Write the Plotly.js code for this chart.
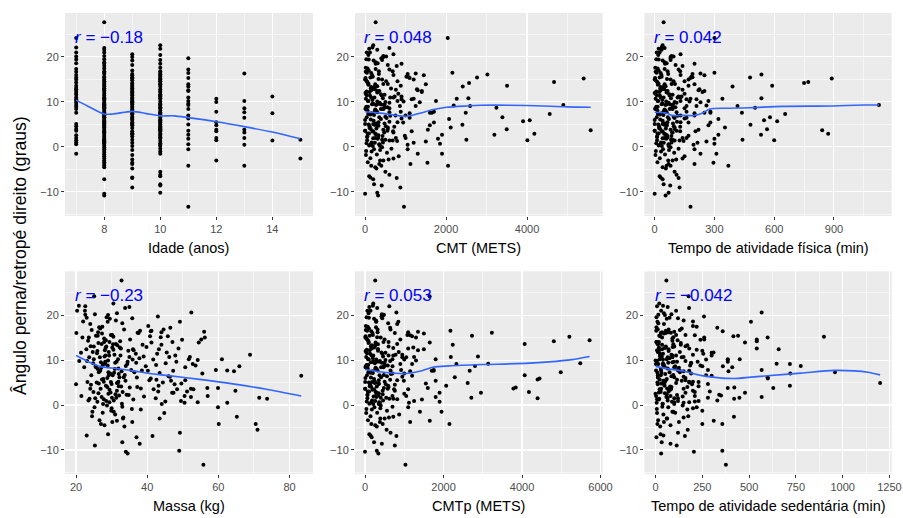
<!DOCTYPE html>
<html>
<head>
<meta charset="utf-8">
<script src="https://cdn.plot.ly/plotly-3.0.1.min.js"></script>
<style>html,body{margin:0;padding:0;background:#fff;}#chart{width:903px;height:518px;}</style>
</head>
<body>
<div id="chart"></div>
<script>
// ---------- data (one entry per child) ----------
const age = [
 10,9,8,10,11,9,10,8,12,9, 10,8,11,9,10,8,9,10,8,11, 9,10,8,7,10,11,9,10,8,9, 10,9,8,10,10,11,11,12,11,12,
 11,10,11,11,10,8,8,9,10,8, 9,10,9,10,10,13,8,9,15,12, 8,9,8,13,14,14,14,15,13,13, 13,13,13,13,13,13,12,12,12,12,
 12,12,11,11,11,11,11,11,11,11, 11,11,11,11,11,10,10,9,8,8,
 7,7,7,7,7,7,7,7,7,7, 7,7,7,7,7,7,7,7,7,7, 7,7,7,7,7,7,7,7,7,7, 7,7,7,7,7,
 8,8,8,8,8,8,8,8,8,8, 8,8,8,8,8,8,8,8,8,8, 8,8,8,8,8,8,8,8,8,8, 8,8,8,8,8,8,8,8,8,8,
 8,8,8,8,8,8,8,8,8,8, 8,8,8,8,8,8,8,8,8,8, 8,8,8,8,8,8,8,8,8,8,
 9,9,9,9,9,9,9,9,9,9, 9,9,9,9,9,9,9,9,9,9, 9,9,9,9,9,9,9,9,9,9, 9,9,9,9,9,9,9,9,9,9, 9,9,9,9,9,
 10,10,10,10,10,10,10,10,10,10, 10,10,10,10,10,10,10,10,10,10, 10,10,10,10,10,10,10,10,10,10,
 10,10,10,10,10,10,10,10,10,10, 10,10,10,10,10,10,10,10,10,10
];
const angle = [
 3.7,15.2,14.4,7.3,9.3,2.9,5.9,5.7,1.5,13.6, 3.9,6.6,2.7,8.7,16.1,15.4,14.2,10.8,1.6,13.4,
 4.9,7.6,9.1,24.2,16.5,-4.2,6.2,4.3,9.2,10.7, 12.4,20.6,18.5,15.0,14.6,12.6,13.9,7.8,7.0,3.8,
 1.8,2.7,10.2,-13.3,-10.2,-10.8,-10.4,-9.0,-8.3,-7.2, -6.8,-6.5,-6.9,-6.2,-5.5,-4.2,-4.2,-3.5,-2.6,-3.0,
 -4.5,-3.8,27.7,6.5,11.2,7.5,1.4,1.6,16.3,10.2, 8.6,7.7,3.8,3.2,2.0,0.5,10.7,10.0,5.5,4.8,
 3.5,2.0,19.7,17.2,16.4,15.3,12.4,11.0,9.6,8.4, 6.3,5.0,3.6,0.6,-0.5,22.6,21.8,20.0,22.0,21.6,
 22.1,21.0,20.1,19.4,18.6,17.3,16.7,16.0,15.4,15.0, 14.3,13.6,13.1,12.4,12.0,11.6,11.0,10.6,10.2,9.8,
 9.3,8.9,8.4,7.6,5.1,4.6,4.0,3.6,2.6,2.0, 1.5,1.0,0.6,-1.5,12.8,
 21.0,20.2,19.5,18.8,18.0,17.4,16.8,16.2,15.6,15.0, 14.6,14.0,13.5,13.0,12.6,12.2,11.8,11.4,11.0,10.6,
 10.2,9.8,9.5,9.1,8.8,8.4,8.0,7.7,7.3,7.0, 6.6,6.2,5.8,5.4,5.0,4.7,4.3,4.0,3.6,3.2,
 2.9,2.5,2.2,1.8,1.4,1.0,0.7,0.3,-0.1,-0.5, -0.9,-1.3,-1.7,-2.1,-2.5,-3.0,-3.4,-3.8,12.9,10.8,
 8.6,6.9,5.2,3.4,1.2,13.8,9.6,4.5,0.9,16.5,
 19.2,18.2,17.0,16.2,15.5,14.8,14.0,13.3,12.7,12.1, 11.5,11.0,10.4,9.9,9.4,8.9,8.3,7.8,7.2,6.7,
 6.0,5.5,4.8,4.2,3.5,2.8,2.3,1.6,0.9,0.2, -0.7,-1.8,-2.8,13.0,10.1,8.0,5.2,3.0,11.8,9.6,
 7.5,15.9,12.3,6.4,-4.8,
 20.4,19.3,18.5,17.6,16.8,16.0,15.6,15.1,14.5,14.0, 13.4,12.8,12.2,11.7,11.2,10.7,10.1,9.6,9.1,8.6,
 8.1,7.6,7.1,6.6,6.1,5.6,5.1,4.6,4.1,3.5, 3.0,2.4,1.9,1.3,0.8,0.2,-0.4,-1.0,-1.5,13.9,
 11.4,9.4,7.3,5.4,2.1,15.3,8.8,4.9,0.5,-8.6
];
const massa = [
 38.2,30.5,28.4,36.4,45.2,33.1,41.0,27.3,42.4,31.2, 35.1,29.2,47.4,34.0,37.3,26.1,32.4,39.0,30.1,44.0,
 31.5,40.2,27.6,25.1,38.0,60.1,33.4,43.2,28.2,35.0, 36.0,52.4,49.2,56.2,55.2,48.8,54.5,59.3,55.5,56.9,
 52.3,47.0,51.7,55.8,49.0,34.5,34.0,25.3,33.0,37.0, 23.0,29.0,41.5,49.2,71.0,70.5,27.0,31.5,65.2,43.5,
 28.0,35.8,32.8,83.3,68.9,64.4,73.7,71.5,56.0,61.0, 65.9,62.5,59.9,64.8,57.0,62.5,52.0,54.2,50.7,49.6,
 53.0,50.5,43.0,46.5,41.0,45.8,43.3,47.9,48.2,50.7, 46.4,44.4,52.3,54.2,59.9,30.5,35.0,29.0,22.6,33.8,
 20.8,20.3,22.6,23.0,22.0,26.5,24.4,20.1,25.6,21.8, 23.4,27.2,24.1,22.9,26.0,21.4,28.3,23.7,25.0,20.9,
 24.8,27.5,22.3,26.8,23.2,20.0,28.8,24.0,26.3,21.5, 25.4,23.5,29.4,24.6,30.2,
 22.5,25.3,28.6,31.2,24.0,27.4,33.5,26.2,29.8,23.6, 35.2,27.9,30.4,25.0,32.6,28.1,24.7,36.8,29.3,26.7,
 31.8,23.1,27.0,34.4,28.9,25.6,30.9,38.5,26.4,29.6, 24.3,32.2,27.7,33.9,25.8,30.0,28.4,37.2,26.9,31.5,
 24.9,29.1,34.8,27.2,23.8,30.6,26.0,32.9,28.7,25.2, 35.7,29.9,27.5,31.0,24.5,33.2,26.6,30.2,39.8,28.0,
 25.5,32.0,27.8,29.4,36.1,26.3,31.4,24.2,28.5,41.2,
 29.5,33.0,26.8,44.0,30.2,27.9,47.1,31.6,28.3,34.7, 25.9,32.5,37.8,29.0,31.0,42.5,27.1,35.5,30.7,33.7,
 28.8,40.6,26.4,32.0,41.8,29.7,34.2,31.3,49.5,27.6, 30.0,44.8,33.3,28.5,35.9,26.1,31.9,43.1,29.2,34.5,
 32.8,27.3,30.5,46.0,33.6,
 31.5,35.8,28.9,40.3,44.6,37.6,30.1,43.8,49.8,29.4, 38.7,32.3,36.2,45.5,30.8,46.2,41.7,28.2,52.8,39.6,
 31.9,47.3,43.5,30.3,37.1,42.6,29.8,47.7,32.7,48.4, 51.2,31.1,39.1,27.8,45.1,44.1,33.0,38.2,30.6,41.2,
 42.8,36.9,29.1,46.7,32.1,40.8,53.6,31.7,50.5,37.9
];
const cmt = [
 5572,5399,4667,4560,4897,4181,4066,3901,4008,3506, 3498,3391,3193,3243,3021,2765,2568,2551,2502,2412,
 2403,2486,2593,2041,2156,2049,2074,2115,2189,2263, 1400,700,900,1200,800,1300,1500,1700,1000,1550,
 1800,1900,1750,960,300,320,0,870,220,200, 130,100,780,600,500,400,150,1540,700,450,
 250,350,260,1100,900,1100,600,500,1250,800, 600,300,450,700,250,350,1200,500,800,300,
 200,1000,400,600,150,1100,300,700,200,450, 900,250,550,350,1050,200,100,450,600,300,
 180,40,520,90,310,260,15,700,130,420, 60,880,230,350,10,480,150,1150,80,600,
 270,30,390,1600,200,110,560,0,330,760, 50,440,140,1300,240,
 120,450,30,260,780,60,340,1050,190,0, 520,85,300,640,150,1400,20,410,230,900,
 70,360,170,1250,480,10,280,600,110,750, 40,390,210,1700,90,330,560,140,0,470,
 250,980,50,310,680,160,1850,100,420,220, 25,540,290,830,130,370,65,1120,200,440,
 15,620,270,180,1500,80,350,720,240,45,
 210,560,90,340,1080,25,450,150,760,300, 40,620,180,1350,400,70,250,880,130,500,
 0,330,1600,110,690,270,55,420,1200,190, 370,20,580,140,950,240,480,60,820,310,
 160,1450,35,530,280,
 80,420,260,15,680,170,1020,330,50,560, 240,1280,110,390,730,20,300,190,860,460,
 60,1650,220,350,140,600,0,510,280,1150, 95,430,200,790,35,370,650,160,1900,250,
 120,480,75,940,320,10,550,230,1050,410
];
const atividade = [
 841,889,771,655,1126,871,549,615,600,590, 564,579,534,504,536,479,750,536,441,391,
 481,438,416,300,300,370,320,353,260,340, 250,130,200,170,150,220,200,280,200,220,
 300,320,270,180,70,55,0,125,45,40, 30,25,120,110,100,80,60,295,140,90,
 40,70,45,160,120,200,100,90,230,130, 150,60,80,90,50,70,180,100,130,60,
 40,160,80,120,30,180,60,130,40,90, 150,60,110,70,200,40,20,80,50,35,
 35,10,95,20,60,50,5,130,25,80, 15,170,45,65,0,90,30,210,18,110,
 55,8,75,250,40,22,100,0,62,140, 12,85,28,230,48,
 25,85,8,50,140,15,65,190,35,0, 95,20,55,120,30,240,5,75,45,160,
 15,70,35,210,90,3,55,110,22,130, 10,72,40,280,18,60,100,28,0,88,
 48,170,12,58,125,32,300,20,80,42, 6,98,52,150,26,68,14,200,38,82,
 4,115,50,36,260,16,66,128,46,10,
 40,105,20,68,190,5,85,30,140,60, 10,115,38,230,78,15,50,160,26,95,
 0,64,270,22,128,54,12,82,215,36, 72,4,108,28,175,46,92,14,150,62,
 34,250,8,100,56,
 18,80,52,3,128,34,185,62,12,102, 46,225,24,74,135,5,58,38,160,88,
 14,280,44,66,28,112,0,96,56,205, 20,84,40,145,8,70,120,32,310,50,
 26,92,16,170,64,2,104,48,195,78
];
const cmtp = [
 3781,5207,5722,4987,5485,4177,4447,4397,4397,4068, 3840,4068,2954,2802,3232,2726,4810,2878,2709,2236,
 2616,2667,2329,1646,2177,2152,2287,2068,3139,2186, 1500,800,850,1300,900,1100,1650,1750,1000,1600,
 1800,1900,1800,1030,300,340,0,760,230,170, 140,110,800,650,550,450,160,1650,720,500,
 260,380,260,1200,950,1150,620,540,1350,700, 700,320,480,760,270,380,1250,520,820,350,
 230,1050,420,640,160,1200,330,720,210,470, 950,260,580,360,1100,210,110,470,620,310,
 200,60,480,100,290,280,20,760,120,400, 80,820,250,330,15,520,170,1050,90,640,
 250,40,410,1750,180,130,600,5,350,700, 60,460,160,1400,230,
 140,430,40,280,820,70,320,1100,200,10, 500,95,330,600,170,1350,30,440,210,950,
 80,380,150,1200,510,15,300,650,120,700, 50,410,230,1800,100,350,590,160,5,450,
 270,1000,60,290,720,180,1900,110,400,240, 35,560,310,870,140,390,75,1150,220,460,
 20,660,250,190,1450,90,370,760,260,55,
 230,590,100,320,1150,35,470,170,720,330, 50,600,200,1300,430,80,270,920,140,480,
 10,350,1550,120,740,290,65,400,1250,210, 390,30,610,150,1000,260,500,70,860,300,
 180,1500,45,560,300,
 90,440,280,20,650,190,1080,310,60,600, 260,1230,120,420,780,30,290,210,900,480,
 70,1700,200,370,150,640,5,530,300,1100, 105,450,220,820,45,350,700,175,1950,270,
 130,500,85,990,340,15,580,250,1120,430
];
const sedentaria = [
 62,900,118,959,40,28,600,22,100,15, 421,12,160,776,82,441,541,25,448,35,
 1200,130,718,177,55,357,599,718,647,90, 658,567,510,599,541,541,478,567,720,629,
 567,478,450,376,357,30,205,113,33,5, 42,27,157,120,172,250,10,311,419,60,
 80,45,58,300,200,150,420,280,100,386, 250,120,386,200,80,150,90,386,160,40,
 70,210,259,330,359,416,70,90,386,410, 150,180,30,100,220,20,65,50,8,179,
 40,110,15,75,200,5,130,55,20,260, 90,10,160,35,70,300,25,140,60,8,
 190,45,100,30,230,12,85,150,50,3, 120,65,180,95,18,
 30,85,5,150,45,220,12,70,110,35, 260,18,95,55,180,8,130,40,300,65,
 22,160,90,15,240,50,120,3,75,190, 28,100,60,140,10,280,48,170,80,25,
 210,0,115,58,20,330,88,38,145,68, 7,250,105,42,175,62,14,125,92,33,
 360,52,200,78,17,135,98,47,230,4,
 60,15,140,35,210,90,5,170,48,250, 22,110,75,0,190,40,125,280,10,95,
 160,55,30,230,82,18,340,65,120,38, 200,8,150,100,270,28,180,70,12,115,
 390,45,220,85,25,
 45,120,10,200,70,28,160,95,240,5, 135,55,18,310,85,150,40,225,2,105,
 65,180,32,270,12,115,50,195,78,22, 290,60,145,8,210,100,36,170,90,15,
 255,68,130,42,350,25,185,110,6,80
];

// smooth (loess) curves
const smAgeX = [7, 7.4, 8, 8.3, 9, 9.5, 10, 10.5, 11, 12, 13, 14, 15];
const smAgeY = [10.4, 9.1, 7.3, 7.3, 7.9, 7.4, 6.9, 6.9, 6.5, 5.6, 4.5, 3.3, 1.8];
const smCmtX = [0, 370, 700, 1029, 1358, 1687, 2016, 2510, 2840, 3990, 4980, 5572];
const smCmtY = [7.8, 7.5, 7.1, 6.8, 7.5, 8.3, 8.8, 9.1, 9.25, 9.2, 8.9, 8.8];
const smPaX = [0, 61, 86, 144, 202, 244, 277, 360, 476, 641, 890, 1056, 1126];
const smPaY = [7.7, 7.5, 7.0, 7.0, 7.0, 7.6, 8.4, 8.6, 8.7, 9.0, 9.1, 9.3, 9.3];
const smMassaX = [20, 23, 26.7, 31.4, 36.1, 40.7, 45.4, 54.8, 64.1, 73.5, 83.3];
const smMassaY = [11.0, 9.8, 8.6, 8.1, 7.6, 7.0, 6.6, 5.7, 4.7, 3.5, 2.0];
const smCmtpX = [0, 464, 886, 1055, 1392, 1730, 2152, 2996, 3840, 4684, 5274, 5722];
const smCmtpY = [7.9, 7.3, 7.0, 7.0, 7.5, 8.4, 8.7, 9.0, 9.2, 9.6, 10.1, 10.8];
const smSedX = [0, 62, 152, 241, 330, 420, 509, 598, 777, 955, 1062, 1134, 1200];
const smSedY = [8.6, 8.1, 7.5, 6.6, 6.1, 5.9, 6.2, 6.5, 7.1, 7.7, 7.6, 7.3, 6.7];

const rValues = ['−0.18', '0.048', '0.042', '−0.23', '0.053', '−0.042'];
const xTitles = ['Idade (anos)', 'CMT (METS)', 'Tempo de atividade física (min)',
                 'Massa (kg)', 'CMTp (METS)', 'Tempo de atividade sedentária (min)'];
const yTitle = 'Ângulo perna/retropé direito (graus)';

// ---------- layout ----------
const FONT = 'Liberation Sans, Arial, Helvetica, sans-serif';
const colDom = [[0.07198, 0.34662], [0.39313, 0.66744], [0.71351, 0.98749]];
const rowDom = [[0.58301, 0.97490], [0.08494, 0.47625]];
const titleY = [0.5212, 0.0232];

const panels = [
  {x: age,        sx: smAgeX,   sy: smAgeY,   range: [6.6, 15.45],  tick0: 8,  dtick: 2,    minor: 1,    col: 0, row: 0},
  {x: cmt,        sx: smCmtX,   sy: smCmtY,   range: [-250, 5869],  tick0: 0,  dtick: 2000, minor: 1000, col: 1, row: 0},
  {x: atividade,  sx: smPaX,    sy: smPaY,    range: [-52, 1190],   tick0: 0,  dtick: 300,  minor: 150,  col: 2, row: 0},
  {x: massa,      sx: smMassaX, sy: smMassaY, range: [16.9, 86.6],  tick0: 20, dtick: 20,   minor: 10,   col: 0, row: 1},
  {x: cmtp,       sx: smCmtpX,  sy: smCmtpY,  range: [-255, 6056],  tick0: 0,  dtick: 2000, minor: 1000, col: 1, row: 1},
  {x: sedentaria, sx: smSedX,   sy: smSedY,   range: [-60, 1262],   tick0: 0,  dtick: 250,  minor: 125,  col: 2, row: 1}
];

const traces = [];
const lineTraces = [];
const annotations = [];
const layout = {
  width: 903, height: 518,
  margin: {l: 0, r: 0, t: 0, b: 0},
  paper_bgcolor: '#FFFFFF',
  plot_bgcolor: '#EBEBEB',
  showlegend: false,
  hovermode: false,
  font: {family: FONT, color: '#000000'}
};

panels.forEach((p, i) => {
  const s = i === 0 ? '' : String(i + 1);
  traces.push({
    type: 'scatter', mode: 'markers', x: p.x, y: angle,
    xaxis: 'x' + s, yaxis: 'y' + s,
    marker: {color: '#000000', size: 4, line: {width: 0}},
    cliponaxis: false
  });
  lineTraces.push({
    type: 'scatter', mode: 'lines', x: p.sx, y: p.sy,
    xaxis: 'x' + s, yaxis: 'y' + s,
    line: {color: '#3366FF', width: 1.6, shape: 'spline', smoothing: 0.8}
  });
  const common = {
    showgrid: true, gridcolor: '#FFFFFF', gridwidth: 1.1,
    zeroline: false, showline: false,
    ticks: 'outside', ticklen: 3, tickwidth: 1, tickcolor: '#333333',
    tickfont: {family: FONT, size: 11, color: '#4D4D4D'},
    fixedrange: true, tickmode: 'linear'
  };
  layout['xaxis' + s] = Object.assign({}, common, {
    domain: colDom[p.col], anchor: 'y' + s, range: p.range,
    tick0: p.tick0, dtick: p.dtick,
    minor: {tick0: p.tick0, dtick: p.minor, showgrid: true, gridcolor: '#FFFFFF', gridwidth: 0.55}
  });
  layout['yaxis' + s] = Object.assign({}, common, {
    domain: rowDom[p.row], anchor: 'x' + s, range: [-15.35, 29.75],
    tick0: 0, dtick: 10,
    minor: {tick0: 0, dtick: 5, showgrid: true, gridcolor: '#FFFFFF', gridwidth: 0.55}
  });
  annotations.push({
    xref: 'x' + s, yref: 'y' + s, x: Math.min(...p.x), y: 24.4,
    xanchor: 'left', yanchor: 'middle', xshift: -3, showarrow: false,
    text: '<i>r</i> = ' + rValues[i],
    font: {family: FONT, size: 17, color: '#0000FF'}
  });
  annotations.push({
    xref: 'paper', yref: 'paper',
    x: (colDom[p.col][0] + colDom[p.col][1]) / 2, y: titleY[p.row],
    xanchor: 'center', yanchor: 'middle', showarrow: false,
    text: xTitles[i], font: {family: FONT, size: 14.5, color: '#000000'}
  });
});

annotations.push({
  xref: 'paper', yref: 'paper', x: 20 / 903, y: 1 - 256 / 518,
  xanchor: 'center', yanchor: 'middle', showarrow: false, textangle: -90,
  text: yTitle, font: {family: FONT, size: 17.6, color: '#000000'}
});
layout.annotations = annotations;

Plotly.newPlot('chart', traces.concat(lineTraces), layout, {displayModeBar: false, staticPlot: true});
</script>
</body>
</html>
